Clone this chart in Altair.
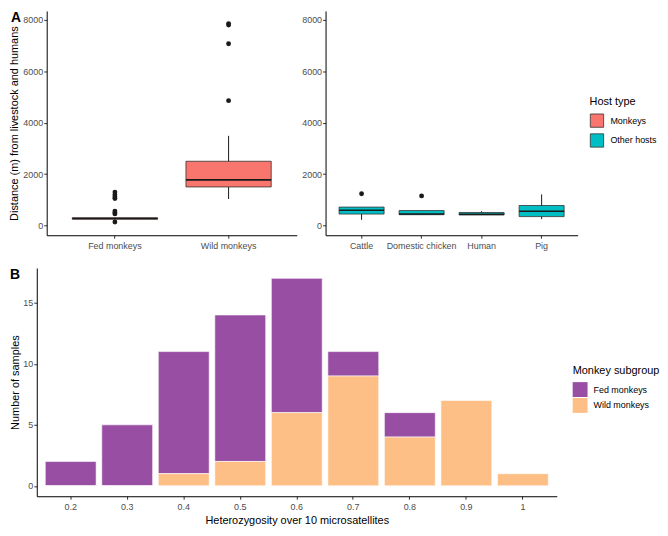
import altair as alt
import pandas as pd

# ---------------- Panel A: distance boxplots (summary statistics)
monkey_groups = ["Fed monkeys", "Wild monkeys"]
monkey_lower = [240, 1030]
monkey_q1 = [245, 1500]
monkey_median = [270, 1775]
monkey_q3 = [300, 2500]
monkey_upper = [305, 3490]
monkey_out_group = ["Fed monkeys"] * 8 + ["Wild monkeys"] * 4
monkey_out_value = [137, 450, 500, 560, 1050, 1110, 1200, 1300, 4860, 7075, 7800, 7860]

other_groups = ["Cattle", "Domestic chicken", "Human", "Pig"]
other_lower = [222, 410, 408, 247]
other_q1 = [445, 420, 408, 346]
other_median = [593, 450, 440, 556]
other_q3 = [716, 580, 506, 778]
other_upper = [716, 580, 556, 1210]
other_out_group = ["Cattle", "Domestic chicken"]
other_out_value = [1235, 1150]

host_types = ["Monkeys", "Other hosts"]
host_colors = ["#F8766D", "#00BFC4"]

# ---------------- Panel B: heterozygosity stacked bars
het_bins = ["0.2", "0.3", "0.4", "0.5", "0.6", "0.7", "0.8", "0.9", "1"]
fed_counts = [2, 5, 10, 12, 11, 2, 2, 0, 0]
wild_counts = [0, 0, 1, 2, 6, 9, 4, 7, 1]
subgroups = ["Fed monkeys", "Wild monkeys"]
subgroup_colors = ["#984EA3", "#FDBF86"]

FONT = "Liberation Sans"
y_scale_A = alt.Scale(domain=[-380, 8350], nice=False, zero=False)


def box_panel(groups, lower, q1, med, q3, upper, out_g, out_v, host, width, height,
              ytitle, legend, tag):
    box_df = pd.DataFrame({"group": groups, "lower": lower, "q1": q1, "median": med,
                           "q3": q3, "upper": upper, "host": host})
    out_df = pd.DataFrame({"group": out_g, "value": out_v})
    xenc = alt.X("group:N", sort=groups,
                 scale=alt.Scale(paddingInner=0.25, paddingOuter=0.225),
                 axis=alt.Axis(title=None, labelAngle=0, labelPadding=3))
    yaxis = alt.Axis(title=ytitle, values=[0, 2000, 4000, 6000, 8000], format="d",
                     titlePadding=3, labelPadding=1)
    base = alt.Chart(box_df)
    whisk = base.mark_rule(color="#1a1a1a", strokeWidth=1).encode(
        x=xenc, y=alt.Y("lower:Q", scale=y_scale_A, axis=yaxis), y2="upper:Q")
    box = base.mark_bar(stroke="#333333", strokeWidth=0.8).encode(
        x=xenc, y=alt.Y("q1:Q", scale=y_scale_A), y2="q3:Q",
        fill=alt.Fill("host:N", scale=alt.Scale(domain=host_types, range=host_colors),
                      legend=legend))
    median = base.mark_bar(stroke="#1a1a1a", strokeWidth=1.6, fillOpacity=0).encode(
        x=xenc, y=alt.Y("median:Q", scale=y_scale_A), y2="median:Q")
    pts = alt.Chart(out_df).mark_circle(size=24, color="#1a1a1a", opacity=1).encode(
        x=xenc, y=alt.Y("value:Q", scale=y_scale_A))
    layers = [whisk, box, median, pts]
    if tag:
        t = alt.Chart(pd.DataFrame({"t": [tag]})).mark_text(
            fontWeight="bold", fontSize=14, font=FONT, align="left", baseline="top",
            color="black").encode(text="t:N", x=alt.value(-36), y=alt.value(0))
        layers.append(t)
    return alt.layer(*layers).properties(width=width, height=height)


host_legend = alt.Legend(title="Host type", orient="none", legendX=266, legendY=86,
                         symbolType="square", symbolSize=180, symbolStrokeColor="#333333",
                         symbolStrokeWidth=0.8, values=host_types, rowPadding=3,
                         labelOffset=6)

left = box_panel(monkey_groups, monkey_lower, monkey_q1, monkey_median, monkey_q3,
                 monkey_upper, monkey_out_group, monkey_out_value, ["Monkeys", "Monkeys"],
                 252, 226, "Distance (m) from livestock and humans", None, "A")
right = box_panel(other_groups, other_lower, other_q1, other_median, other_q3,
                  other_upper, other_out_group, other_out_value, ["Other hosts"] * 4,
                  254, 226, None, host_legend, None)

# invisible 1px spacer so that the top row's plots can sit right of panel B's plot
spacer = alt.Chart(pd.DataFrame({"s": [0]})).mark_point(opacity=0, size=1).encode(
    x=alt.value(0), y=alt.value(0)).properties(width=1, height=1)

rowA = alt.hconcat(spacer, alt.hconcat(left, right, spacing=4).resolve_scale(fill="independent"),
                   spacing=-30)

# Panel B data table
rows = []
for b, f, w in zip(het_bins, fed_counts, wild_counts):
    rows.append({"bin": b, "group": "Fed monkeys", "count": f, "ord": 1})
    rows.append({"bin": b, "group": "Wild monkeys", "count": w, "ord": 0})
bdf = pd.DataFrame(rows)

bars = alt.Chart(bdf).mark_bar(stroke="white", strokeWidth=0.6).encode(
    x=alt.X("bin:N", sort=het_bins,
            scale=alt.Scale(paddingInner=0.1, paddingOuter=0.15),
            axis=alt.Axis(title="Heterozygosity over 10 microsatellites", labelAngle=0,
                          labelPadding=3, titlePadding=3)),
    y=alt.Y("count:Q", stack="zero",
            scale=alt.Scale(domain=[-0.85, 17.85], nice=False, zero=False),
            axis=alt.Axis(title="Number of samples", values=[0, 5, 10, 15],
                          titlePadding=2, labelPadding=1)),
    color=alt.Color("group:N", scale=alt.Scale(domain=subgroups, range=subgroup_colors),
                    legend=alt.Legend(title="Monkey subgroup", orient="none",
                                      legendX=540, legendY=98, symbolType="square",
                                      symbolSize=225, symbolStrokeWidth=0, rowPadding=1,
                                      labelOffset=6)),
    order=alt.Order("ord:Q", sort="ascending"),
)
tagB = alt.Chart(pd.DataFrame({"t": ["B"]})).mark_text(
    fontWeight="bold", fontSize=14, font=FONT, align="left", baseline="top",
    color="black").encode(text="t:N", x=alt.value(-27), y=alt.value(0))

rowB = alt.layer(bars, tagB).properties(width=524, height=230)

chart = alt.vconcat(rowA, rowB, spacing=18,
                    padding={"left": 0, "top": 0, "right": 0, "bottom": 0}).resolve_scale(
    color="independent", fill="independent"
).configure_view(stroke=None).configure_axis(
    labelFont=FONT, titleFont=FONT, labelFontSize=9, labelColor="#4D4D4D",
    titleFontSize=11, titleFontWeight="normal", titleColor="black",
    domainColor="black", domainWidth=1, tickColor="#333333", tickSize=3, grid=False
).configure_legend(
    titleFont=FONT, labelFont=FONT, titleFontSize=11, titleFontWeight="normal",
    titleColor="black", labelFontSize=9, labelColor="black", titlePadding=6
).configure_text(font=FONT)

chart.save("out.html", embed_options={"renderer": "svg", "actions": False})
